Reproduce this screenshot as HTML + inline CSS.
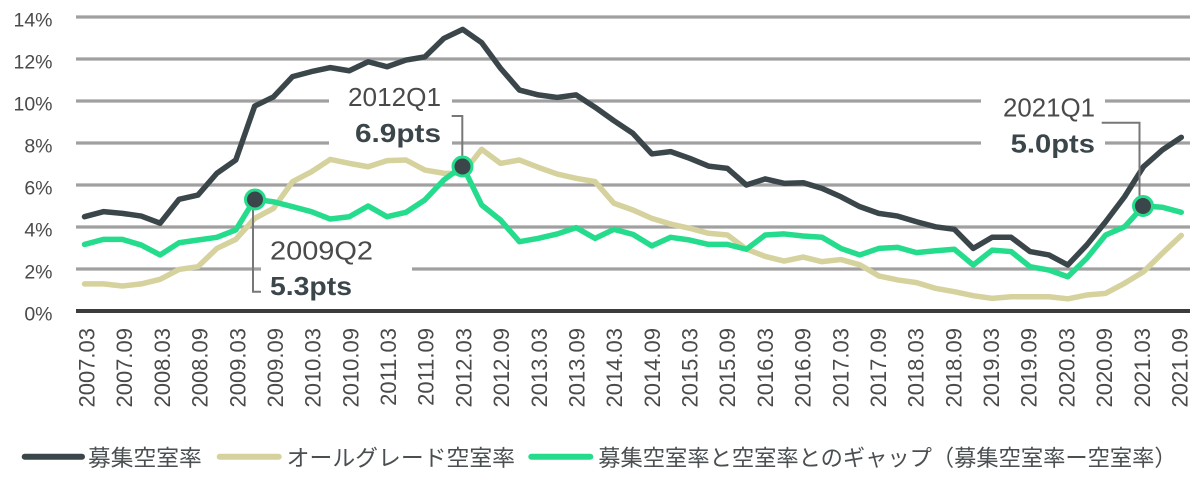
<!DOCTYPE html>
<html>
<head>
<meta charset="utf-8">
<style>
  html,body{margin:0;padding:0;background:#fff;}
  svg{display:block;}
  .yl{font-family:"Liberation Sans","Noto Sans CJK JP",sans-serif;font-size:19.5px;fill:#4a4a4a;}
  .xl{font-family:"Liberation Sans","Noto Sans CJK JP",sans-serif;font-size:22px;fill:#4a4a4a;}
  .ann{font-family:"Liberation Sans","Noto Sans CJK JP",sans-serif;font-size:26px;fill:#4a4a4a;}
  .annb{font-family:"Liberation Sans","Noto Sans CJK JP",sans-serif;font-size:26px;font-weight:bold;fill:#3b464b;}
  .lg{font-family:"Liberation Sans","Noto Sans CJK JP",sans-serif;font-size:22.5px;fill:#4a4f52;}
</style>
</head>
<body>
<svg width="1203" height="477" viewBox="0 0 1203 477" xmlns="http://www.w3.org/2000/svg">
  <!-- gridlines -->
  <g stroke="#a0a0a0" stroke-width="3.3">
    <line x1="76" y1="17" x2="1190" y2="17"/>
    <line x1="76" y1="59" x2="1190" y2="59"/>
    <line x1="76" y1="101" x2="1190" y2="101"/>
    <line x1="76" y1="143" x2="1190" y2="143"/>
    <line x1="76" y1="185" x2="1190" y2="185"/>
    <line x1="76" y1="227" x2="1190" y2="227"/>
    <line x1="76" y1="269" x2="1190" y2="269"/>
  </g>
  <!-- white label boxes -->
  <rect x="261" y="236" width="151" height="64" fill="#fff"/>
  <rect x="329" y="80" width="123" height="70" fill="#fff"/>
  <rect x="981" y="88" width="124" height="72" fill="#fff"/>
  <!-- axis -->
  <line x1="76" y1="311" x2="1190" y2="311" stroke="#3c3c3c" stroke-width="4"/>

  <!-- y labels -->
  <g class="yl" text-anchor="end">
    <text x="52.5" y="26.3">14%</text>
    <text x="52.5" y="68.3">12%</text>
    <text x="52.5" y="110.3">10%</text>
    <text x="52.5" y="152.3">8%</text>
    <text x="52.5" y="194.3">6%</text>
    <text x="52.5" y="236.3">4%</text>
    <text x="52.5" y="278.3">2%</text>
    <text x="52.5" y="320.3">0%</text>
  </g>

  <!-- x labels -->
  <g class="xl" text-anchor="end">
    <text transform="translate(94.5 328) rotate(-90)">2007.03</text>
    <text transform="translate(132.2 328) rotate(-90)">2007.09</text>
    <text transform="translate(169.9 328) rotate(-90)">2008.03</text>
    <text transform="translate(207.6 328) rotate(-90)">2008.09</text>
    <text transform="translate(245.3 328) rotate(-90)">2009.03</text>
    <text transform="translate(282.9 328) rotate(-90)">2009.09</text>
    <text transform="translate(320.6 328) rotate(-90)">2010.03</text>
    <text transform="translate(358.3 328) rotate(-90)">2010.09</text>
    <text transform="translate(396.0 328) rotate(-90)">2011.03</text>
    <text transform="translate(433.7 328) rotate(-90)">2011.09</text>
    <text transform="translate(471.4 328) rotate(-90)">2012.03</text>
    <text transform="translate(509.1 328) rotate(-90)">2012.09</text>
    <text transform="translate(546.8 328) rotate(-90)">2013.03</text>
    <text transform="translate(584.5 328) rotate(-90)">2013.09</text>
    <text transform="translate(622.2 328) rotate(-90)">2014.03</text>
    <text transform="translate(659.8 328) rotate(-90)">2014.09</text>
    <text transform="translate(697.5 328) rotate(-90)">2015.03</text>
    <text transform="translate(735.2 328) rotate(-90)">2015.09</text>
    <text transform="translate(772.9 328) rotate(-90)">2016.03</text>
    <text transform="translate(810.6 328) rotate(-90)">2016.09</text>
    <text transform="translate(848.3 328) rotate(-90)">2017.03</text>
    <text transform="translate(886.0 328) rotate(-90)">2017.09</text>
    <text transform="translate(923.7 328) rotate(-90)">2018.03</text>
    <text transform="translate(961.4 328) rotate(-90)">2018.09</text>
    <text transform="translate(999.1 328) rotate(-90)">2019.03</text>
    <text transform="translate(1036.7 328) rotate(-90)">2019.09</text>
    <text transform="translate(1074.4 328) rotate(-90)">2020.03</text>
    <text transform="translate(1112.1 328) rotate(-90)">2020.09</text>
    <text transform="translate(1149.8 328) rotate(-90)">2021.03</text>
    <text transform="translate(1187.5 328) rotate(-90)">2021.09</text>
  </g>

  <!-- series -->
  <g transform="translate(84.5 311) scale(18.91 -21)" fill="none" stroke-linejoin="round" stroke-linecap="round">
    <polyline vector-effect="non-scaling-stroke" stroke="#3b464b" stroke-width="5.5"
      points="0,4.49 1,4.73 2,4.65 3,4.52 4,4.18 5,5.32 6,5.52 7,6.56 8,7.19 9,9.76 10,10.2 11,11.16 12,11.4 13,11.59 14,11.44 15,11.87 16,11.63 17,11.95 18,12.1 19,12.98 20,13.41 21,12.78 22,11.56 23,10.52 24,10.29 25,10.17 26,10.29 27,9.7 28,9.06 29,8.46 30,7.48 31,7.59 32,7.27 33,6.9 34,6.79 35,6.0 36,6.29 37,6.08 38,6.11 39,5.84 40,5.44 41,4.97 42,4.65 43,4.52 44,4.25 45,4.01 46,3.89 47,2.98 48,3.51 49,3.51 50,2.83 51,2.67 52,2.19 53,3.14 54,4.25 55,5.44 56,6.87 57,7.67 58,8.27"/>
    <polyline vector-effect="non-scaling-stroke" stroke="#d6d29e" stroke-width="5.5"
      points="0,1.29 1,1.29 2,1.19 3,1.29 4,1.51 5,1.98 6,2.11 7,2.98 8,3.41 9,4.41 10,4.89 11,6.16 12,6.63 13,7.22 14,7.03 15,6.87 16,7.16 17,7.19 18,6.71 19,6.56 20,6.55 21,7.7 22,7.03 23,7.19 24,6.84 25,6.52 26,6.32 27,6.16 28,5.13 29,4.81 30,4.41 31,4.14 32,3.94 33,3.7 34,3.62 35,2.95 36,2.6 37,2.38 38,2.57 39,2.35 40,2.45 41,2.2 42,1.67 43,1.48 44,1.35 45,1.08 46,0.92 47,0.73 48,0.6 49,0.68 50,0.68 51,0.68 52,0.58 53,0.76 54,0.84 55,1.32 56,1.87 57,2.75 58,3.6"/>
    <polyline vector-effect="non-scaling-stroke" stroke="#25dc8c" stroke-width="5.5"
      points="0,3.17 1,3.41 2,3.41 3,3.14 4,2.67 5,3.25 6,3.38 7,3.51 8,3.86 9,5.32 10,5.2 11,4.97 12,4.73 13,4.38 14,4.49 15,5.0 16,4.49 17,4.7 18,5.29 19,6.24 20,6.9 21,5.05 22,4.33 23,3.3 24,3.46 25,3.67 26,3.97 27,3.46 28,3.89 29,3.65 30,3.1 31,3.51 32,3.38 33,3.17 34,3.17 35,2.94 36,3.62 37,3.67 38,3.57 39,3.51 40,2.98 41,2.67 42,2.98 43,3.03 44,2.78 45,2.87 46,2.94 47,2.19 48,2.9 49,2.83 50,2.11 51,1.95 52,1.63 53,2.51 54,3.62 55,4.01 56,5.0 57,4.94 58,4.7"/>
  </g>

  <!-- leader lines -->
  <g fill="none" stroke="#777" stroke-width="2">
    <polyline points="253,200 253,291.7 261,291.7"/>
    <polyline points="451.7,116 462.3,116 462.3,160"/>
    <polyline points="1101.7,122.7 1139.5,122.7 1139.5,200"/>
  </g>

  <!-- markers -->
  <g fill="#3b464b" stroke="#25dc8c" stroke-width="3">
    <circle cx="255" cy="199.5" r="9.5"/>
    <circle cx="462.5" cy="166.5" r="9.5"/>
    <circle cx="1143" cy="206" r="9.5"/>
  </g>

  <!-- annotations -->
  <text class="ann" x="270" y="259.5" textLength="103" lengthAdjust="spacingAndGlyphs">2009Q2</text>
  <text class="annb" x="270" y="295" textLength="82" lengthAdjust="spacingAndGlyphs">5.3pts</text>
  <text class="ann" x="348" y="106" textLength="93" lengthAdjust="spacingAndGlyphs">2012Q1</text>
  <text class="annb" x="355" y="142" textLength="86" lengthAdjust="spacingAndGlyphs">6.9pts</text>
  <text class="ann" x="1003" y="116.7" textLength="92" lengthAdjust="spacingAndGlyphs">2021Q1</text>
  <text class="annb" x="1010.7" y="152.7" textLength="84.3" lengthAdjust="spacingAndGlyphs">5.0pts</text>

  <!-- legend -->
  <g stroke-width="6" stroke-linecap="round">
    <line x1="24.7" y1="456.7" x2="82" y2="456.7" stroke="#3b464b"/>
    <line x1="219.7" y1="456.7" x2="278.7" y2="456.7" stroke="#d6d29e"/>
    <line x1="531.3" y1="456.7" x2="590.3" y2="456.7" stroke="#25dc8c"/>
  </g>
  <text class="lg" x="88" y="466" textLength="113.7" lengthAdjust="spacingAndGlyphs">募集空室率</text>
  <text class="lg" x="286.7" y="466" textLength="228.3" lengthAdjust="spacingAndGlyphs">オールグレード空室率</text>
  <text class="lg" x="598.3" y="466" textLength="578.4" lengthAdjust="spacingAndGlyphs">募集空室率と空室率とのギャップ（募集空室率ー空室率）</text>
</svg>
</body>
</html>
